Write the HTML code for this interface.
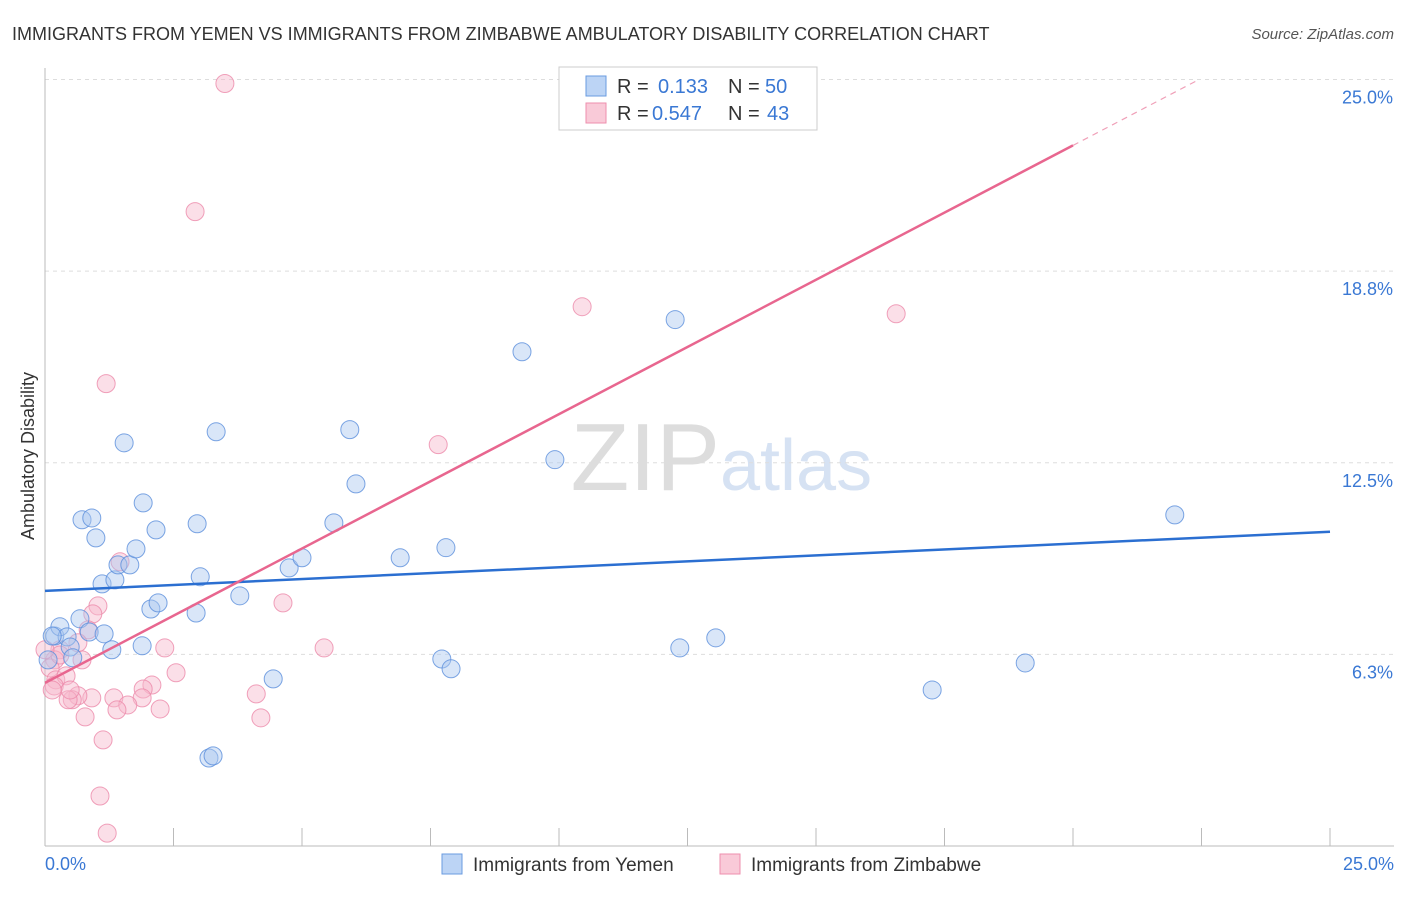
<!DOCTYPE html>
<html><head><meta charset="utf-8"><style>
body{margin:0;background:#fff;font-family:"Liberation Sans",sans-serif;}
svg text{font-family:"Liberation Sans",sans-serif;}
</style></head><body>
<svg width="1406" height="892" xmlns="http://www.w3.org/2000/svg">
<text x="12" y="40" font-size="18" fill="#333">IMMIGRANTS FROM YEMEN VS IMMIGRANTS FROM ZIMBABWE AMBULATORY DISABILITY CORRELATION CHART</text>
<text x="1394" y="39" font-size="15" fill="#555" font-style="italic" text-anchor="end">Source: ZipAtlas.com</text>
<text x="720" y="490" font-size="96" fill="#ddd" font-family="Liberation Serif" text-anchor="end">ZIP</text>
<text x="720" y="490" font-size="72" fill="#d6e2f3">atlas</text>
<g id="grid"></g><g id="axes"></g><g id="marks"></g>
<text transform="translate(34,456) rotate(-90)" font-size="18" fill="#333" text-anchor="middle">Ambulatory Disability</text>
<g>
<rect x="559" y="67" width="258" height="63" fill="#fff" stroke="#ccc"/>
<rect x="586" y="76" width="20" height="20" fill="#bcd4f5" stroke="#6a9be0"/>
<rect x="586" y="103" width="20" height="20" fill="#f9cad8" stroke="#ee8fae"/>
<text x="617" y="93" font-size="20" fill="#333">R = </text><text x="658" y="93" font-size="20" fill="#3a78d4">0.133</text>
<text x="728" y="93" font-size="20" fill="#333">N = </text><text x="765" y="93" font-size="20" fill="#3a78d4">50</text>
<text x="617" y="120" font-size="20" fill="#333">R = </text><text x="652" y="120" font-size="20" fill="#3a78d4">0.547</text>
<text x="728" y="120" font-size="20" fill="#333">N = </text><text x="767" y="120" font-size="20" fill="#3a78d4">43</text>
</g>
<g>
<rect x="442" y="854" width="20" height="20" fill="#bcd4f5" stroke="#6a9be0"/>
<text x="473" y="871" font-size="19" fill="#333">Immigrants from Yemen</text>
<rect x="720" y="854" width="20" height="20" fill="#f9cad8" stroke="#ee8fae"/>
<text x="751" y="871" font-size="19" fill="#333">Immigrants from Zimbabwe</text>
</g>
</svg>
<script>
const yTicks=[6.25,12.5,18.75,25];
const yTickLabels=["6.3%","12.5%","18.8%","25.0%"];
const xTickVals=[0,2.5,5,7.5,10,12.5,15,17.5,20,22.5,25];
const yemenX=[.19,.29,.43,.49,.54,.68,.72,.91,.99,.86,1.15,1.11,1.30,1.36,1.42,1.54,1.65,1.77,1.91,1.89,2.06,2.16,2.20,2.94,2.96,3.02,3.19,3.27,3.33,3.79,4.44,4.75,5.00,5.62,5.93,6.05,6.91,7.72,7.80,7.90,9.28,9.92,12.26,12.35,13.05,17.26,19.07,21.98,.14,.06];
const yemenY=[6.85,7.15,6.82,6.49,6.14,7.41,10.64,10.70,10.05,6.98,6.92,8.55,6.40,8.68,9.17,13.15,9.17,9.69,11.19,6.53,7.73,10.31,7.93,7.60,10.51,8.78,2.87,2.94,13.51,8.16,5.45,9.07,9.40,10.54,13.58,11.81,9.40,6.10,9.73,5.78,16.12,12.60,17.17,6.46,6.79,5.09,5.97,10.80,6.85,6.07];
const zimX=[3.50,2.92,1.19,10.45,16.56,7.65,1.46,1.03,.93,.84,4.63,5.43,2.33,2.55,.72,.64,.29,.19,.10,.21,.41,.18,.91,.64,.53,.45,1.34,2.08,1.91,1.89,1.61,1.40,2.24,4.11,4.20,.78,1.13,1.07,1.21,.29,.14,0,.49];
const zimY=[24.87,20.69,15.08,17.59,17.36,13.09,9.27,7.83,7.57,7.05,7.93,6.46,6.46,5.65,6.07,6.63,6.40,6.07,5.81,5.42,5.55,5.22,4.83,4.90,4.77,4.77,4.83,5.25,5.12,4.83,4.60,4.44,4.47,4.96,4.18,4.21,3.46,1.63,.42,6.23,5.09,6.40,5.09];
const yemenTrend=[8.32,0.0772];
const zimTrend=[5.32,0.8765];
const X0=45,X1=1330,Y0=846,Ytop=79.5;
const sx=v=>X0+(X1-X0)*v/25, sy=v=>Y0-(Y0-Ytop)*v/25;
const NS="http://www.w3.org/2000/svg";
function mk(p,t,a){const e=document.createElementNS(NS,t);for(const k in a)e.setAttribute(k,a[k]);p.appendChild(e);return e;}
const grid=document.getElementById('grid'),axes=document.getElementById('axes'),marks=document.getElementById('marks');
yTicks.forEach((t,i)=>{
 const l=mk(grid,'line',{x1:X0,x2:1394,y1:sy(t),y2:sy(t),stroke:'#ddd','stroke-dasharray':'4,4'});
 
 
 const tx=mk(axes,'text',{x:1393,y:sy(t)+24,'font-size':18,fill:'#3a78d4','text-anchor':'end'});
 tx.textContent=yTickLabels[i];
 
 
});
const ax=mk(axes,'line',{x1:X0,x2:1394,y1:Y0,y2:Y0,stroke:'#bbb'});


const ay=mk(axes,'line',{x1:X0,x2:X0,y1:68,y2:Y0,stroke:'#bbb'});


xTickVals.forEach(t=>{
 const l=mk(axes,'line',{x1:sx(t),x2:sx(t),y1:Y0-18,y2:Y0,stroke:'#bbb'});
 
 
});
[[0,'0.0%','start',X0],[25,'25.0%','end',1394]].forEach(a=>{
 const t=mk(axes,'text',{x:a[3],y:870,'font-size':18,fill:'#3a78d4','text-anchor':a[2]});
 t.textContent=a[1];
 
 
});
function dots(xs,ys,fill,stroke,name){xs.forEach((x,i)=>{
 const c=mk(marks,'circle',{cx:sx(x),cy:sy(ys[i]),r:9,fill:fill,'fill-opacity':0.45,stroke:stroke,'stroke-opacity':0.8,'stroke-width':1});
 
 
});}
dots(zimX,zimY,'#f7b8cb','#ec8aaa','point-zimbabwe');
dots(yemenX,yemenY,'#aac8f0','#5b8fdc','point-yemen');
const bl=mk(marks,'line',{x1:sx(0),y1:sy(yemenTrend[0]),x2:sx(25),y2:sy(yemenTrend[0]+25*yemenTrend[1]),stroke:'#2b6fd1','stroke-width':2.5});


const pl=mk(marks,'line',{x1:sx(0),y1:sy(zimTrend[0]),x2:sx(20),y2:sy(zimTrend[0]+20*zimTrend[1]),stroke:'#e8668f','stroke-width':2.5});


const pd=mk(marks,'line',{x1:sx(20),y1:sy(zimTrend[0]+20*zimTrend[1]),x2:sx(22.4),y2:sy(zimTrend[0]+22.4*zimTrend[1]),stroke:'#f0a0b8','stroke-width':1.2,'stroke-dasharray':'6,5'});


</script>
</body></html>
